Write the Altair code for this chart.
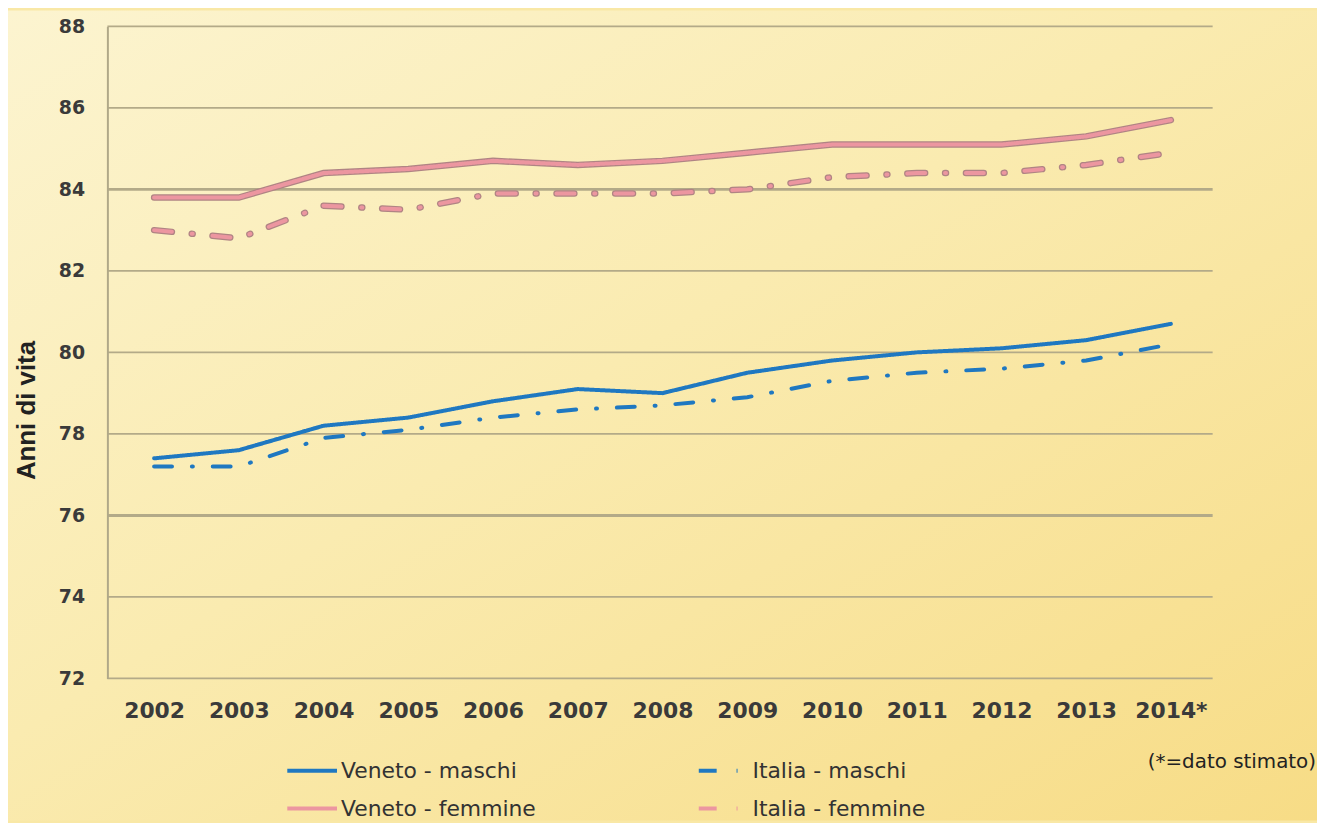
import altair as alt
import pandas as pd

years = ["2002", "2003", "2004", "2005", "2006", "2007", "2008", "2009",
         "2010", "2011", "2012", "2013", "2014*"]
veneto_maschi = [77.4, 77.6, 78.2, 78.4, 78.8, 79.1, 79.0, 79.5, 79.8, 80.0, 80.1, 80.3, 80.7]
italia_maschi = [77.2, 77.2, 77.9, 78.1, 78.4, 78.6, 78.7, 78.9, 79.3, 79.5, 79.6, 79.8, 80.2]
veneto_femmine = [83.8, 83.8, 84.4, 84.5, 84.7, 84.6, 84.7, 84.9, 85.1, 85.1, 85.1, 85.3, 85.7]
italia_femmine = [83.0, 82.8, 83.6, 83.5, 83.9, 83.9, 83.9, 84.0, 84.3, 84.4, 84.4, 84.6, 84.9]
# legend order: column-wise (Veneto column, Italia column)
series_names = ["Veneto - maschi", "Veneto - femmine", "Italia - maschi", "Italia - femmine"]
series_values = [veneto_maschi, veneto_femmine, italia_maschi, italia_femmine]
y_ticks = [72, 74, 76, 78, 80, 82, 84, 86, 88]
note = "(*=dato stimato)"

rows = []
for name, vals in zip(series_names, series_values):
    for yr, v in zip(years, vals):
        rows.append({"anno": yr, "valore": v, "serie": name})
df = pd.DataFrame(rows)
grid_df = pd.DataFrame({"tick": y_ticks})
vf_df = df[df["serie"] == "Veneto - femmine"]
if_df = df[df["serie"] == "Italia - femmine"]

W, H = 1112, 656
DASHDOT = [18, 20, 1, 20]
BLUE = "#1f78c1"
PINK = "#ec96a0"

x_enc = alt.X("anno:O", sort=years, title=None,
              scale=alt.Scale(range=[47, 1070], padding=0),
              axis=alt.Axis(labelAngle=0, labelFont="DejaVu Sans", labelFontSize=22,
                            labelFontWeight="bold", labelColor="#3a3a3a", labelPadding=22,
                            ticks=False, domain=False, grid=False, zindex=1))
y_scale = alt.Scale(domain=[72, 88], nice=False, zero=False)
y_enc = alt.Y("valore:Q", title="Anni di vita", scale=y_scale,
              axis=alt.Axis(values=y_ticks, labelFont="DejaVu Sans", labelFontSize=19,
                            labelFontWeight="bold", labelColor="#3a3a3a", labelPadding=23,
                            ticks=False, grid=False, domain=True, domainColor="#b0a888",
                            domainWidth=2, zindex=1,
                            titleFont="Liberation Sans", titleFontSize=26, titleFontWeight="bold",
                            titleColor="#222222", titleX=-81, titleY=386, titleBaseline="middle"))

bg = alt.Chart(pd.DataFrame({"a": [0]})).mark_rect(
    color=alt.LinearGradient(
        gradient="linear", x1=0, y1=0, x2=1, y2=1,
        stops=[alt.GradientStop(color="#fcf4d0", offset=0),
               alt.GradientStop(color="#faebb0", offset=0.45),
               alt.GradientStop(color="#f7dc86", offset=1)])
).encode(x=alt.value(-100), x2=alt.value(1217), y=alt.value(-16), y2=alt.value(799))

grid = alt.Chart(grid_df).mark_rule(color="#b3aa88").encode(
    y=alt.Y("tick:Q", scale=y_scale),
    strokeWidth=alt.condition("datum.tick == 84 || datum.tick == 76", alt.value(3), alt.value(1.6))
)

outline_vf = alt.Chart(vf_df).mark_line(strokeWidth=6.5, strokeCap="round", color="#b08484").encode(
    x=x_enc, y=y_enc)
outline_if = alt.Chart(if_df).mark_line(strokeWidth=6.5, strokeCap="round", color="#b08484",
                                        strokeDash=DASHDOT).encode(x=x_enc, y=y_enc)

legend = alt.Legend(title=None, orient="none", legendX=179, legendY=722,
                    columns=2, columnPadding=155, rowPadding=-12,
                    symbolType="stroke", symbolSize=2500, symbolStrokeWidth=4,
                    labelFont="DejaVu Sans", labelFontSize=22,
                    labelColor="#333333", labelOffset=2, labelLimit=400)

lines = alt.Chart(df).mark_line(strokeWidth=4, strokeCap="round").encode(
    x=x_enc, y=y_enc,
    color=alt.Color("serie:N",
                    scale=alt.Scale(domain=series_names, range=[BLUE, PINK, BLUE, PINK]),
                    legend=legend),
    strokeDash=alt.StrokeDash("serie:N",
                              scale=alt.Scale(domain=series_names,
                                              range=[[1, 0], [1, 0], DASHDOT, DASHDOT]),
                              legend=legend)
)

note_layer = alt.Chart(pd.DataFrame({"t": [note]})).mark_text(
    align="right", baseline="middle", font="DejaVu Sans", fontSize=20, color="#222222"
).encode(text="t:N", x=alt.value(1216), y=alt.value(740))

chart = alt.layer(bg, grid, outline_vf, outline_if, lines, note_layer).properties(
    width=W, height=H,
    autosize=alt.AutoSizeParams(type="none"),
    padding={"left": 100, "top": 16, "right": 105, "bottom": 143},
    background="#f9e8a6"
).configure_view(stroke=None)

chart.save("out.html", embed_options={"renderer": "svg", "actions": False})
